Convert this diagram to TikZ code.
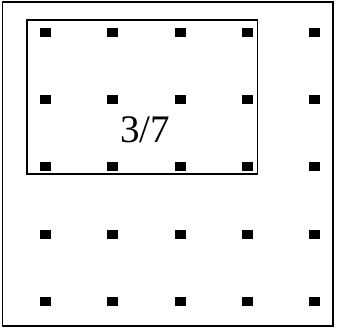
\documentclass[tikz,border=0pt]{standalone}
\usepackage{fontspec}
\setmainfont{Liberation Serif}
\begin{document}
\begin{tikzpicture}[x=1pt,y=-1pt,
  dotmark/.style={fill=black,inner sep=0pt,minimum width=11pt,minimum height=9pt,rectangle},
  frame/.style={draw=black,line width=1.8pt}]
\useasboundingbox (0,0) rectangle (338,328);
\draw[frame] (2.5,2) rectangle (333,326);
\draw[frame] (27,20) rectangle (257.5,174);
\foreach \i/\x in {1/45.5,2/112.5,3/180,4/247,5/314}{
  \foreach \j/\y in {1/33,2/100,3/167,4/235,5/302}{
    \node[dotmark] (d\i\j) at (\x,\y) {};
  }
}
\node[font=\fontsize{39}{42}\selectfont,inner sep=0pt,anchor=base] (lbl) at (145,143) {3/7};
\end{tikzpicture}
\end{document}
